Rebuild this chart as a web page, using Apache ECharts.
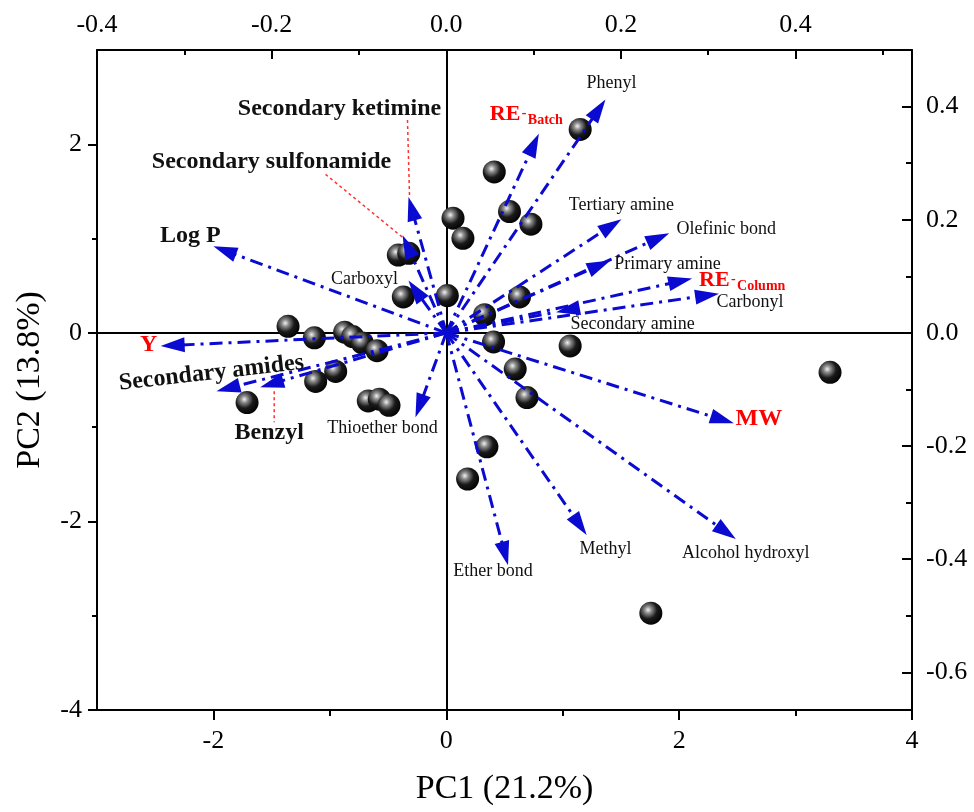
<!DOCTYPE html>
<html><head><meta charset="utf-8">
<script src="https://cdn.jsdelivr.net/npm/echarts@6/dist/echarts.min.js"></script>
<style>html,body{margin:0;padding:0;background:#fff}#c{width:974px;height:812px}</style>
</head><body><div id="c"></div>
<script>
// ---------- DATA ----------
// Sample scores (PC1, PC2)
const scorePC1 = [1.150, 0.412, 0.058, 0.143, 0.543, 0.727, -0.412, -0.322, -0.369, 0.009, 0.629, 0.329,
  -1.359, -1.133, -0.873, -0.804, -0.721, -0.595, 0.406, 1.064, -0.950, -1.122, -1.711, -0.670, -0.575, -0.492,
  0.592, 0.693, 0.349, 0.183, 3.296, 1.757];
const scorePC2 = [2.158, 1.707, 1.216, 1.003, 1.287, 1.152, 0.825, 0.843, 0.381, 0.395, 0.381, 0.192,
  0.069, -0.053, 0.007, -0.039, -0.107, -0.189, -0.096, -0.139, -0.409, -0.515, -0.739, -0.722, -0.704, -0.768,
  -0.384, -0.686, -1.209, -1.550, -0.419, -2.973];

// Variable loadings (top axis = PC1 loading, right axis = PC2 loading)
const loadingNames = ['Phenyl', 'RE-Batch', 'Tertiary amine', 'Olefinic bond', 'Primary amine', 'RE-Column',
  'Carbonyl', 'Secondary amine', 'MW', 'Alcohol hydroxyl', 'Methyl', 'Ether bond', 'Thioether bond', 'Benzyl',
  'Secondary amides', 'Y', 'Log P', 'Secondary sulfonamide', 'Secondary ketimine', 'Carboxyl'];
const loadingPC1 = [0.1823, 0.1060, 0.2006, 0.2553, 0.1880, 0.2815, 0.3123, 0.1527, 0.3293, 0.3316, 0.1607,
  0.0707, -0.0353, -0.2131, -0.2632, -0.3271, -0.2667, -0.0501, -0.0433, -0.0433];
const loadingPC2 = [0.4124, 0.3520, 0.2009, 0.1760, 0.1280, 0.0960, 0.0693, 0.0444, -0.1600, -0.3644, -0.3573,
  -0.4107, -0.1493, -0.0960, -0.1031, -0.0231, 0.1529, 0.1724, 0.2400, 0.0924];

// Tick labels
const pc1Ticks = [-2, 0, 2, 4];
const pc1Minor = [-1, 1, 3];
const pc2Ticks = [-4, -2, 0, 2];
const pc2Minor = [-3, -1, 1];
const load1Ticks = [-0.4, -0.2, 0, 0.2, 0.4];
const load1Minor = [-0.3, -0.1, 0.1, 0.3, 0.5];
const load2Ticks = [-0.6, -0.4, -0.2, 0, 0.2, 0.4];
const load2Minor = [-0.5, -0.3, -0.1, 0.1, 0.3];

// ---------- STYLE / LAYOUT ----------
const FONT = '"Liberation Serif", "Times New Roman", serif';
const BLUE = '#0a0ad0';
const labelLayout = {
  'Phenyl': {dx: 6, dy: -16, kind: 'reg'},
  'RE-Batch': {dx: -49, dy: -19, kind: 'sub'},
  'Tertiary amine': {dx: 0, dy: -14, kind: 'reg'},
  'Olefinic bond': {dx: 57, dy: -4, kind: 'reg'},
  'Primary amine': {dx: 57, dy: 4, kind: 'reg'},
  'RE-Column': {dx: 7, dy: 2, kind: 'sub'},
  'Carbonyl': {dx: 31, dy: 9, kind: 'reg'},
  'Secondary amine': {dx: 53, dy: 17, kind: 'reg', reverse: true},
  'MW': {dx: 25, dy: -5, kind: 'red'},
  'Alcohol hydroxyl': {dx: 10, dy: 14, kind: 'reg'},
  'Methyl': {dx: 19, dy: 14, kind: 'reg'},
  'Ether bond': {dx: -15, dy: 6, kind: 'reg'},
  'Thioether bond': {dx: -33, dy: 11, kind: 'reg'},
  'Benzyl': {dx: 9, dy: 46, kind: 'bold', leader: [14, 4, 14, 35]},
  'Secondary amides': {dx: -5, dy: -18, kind: 'bold', rot: 6.5},
  'Y': {dx: -12, dy: -1, kind: 'red'},
  'Log P': {dx: -23, dy: -11, kind: 'bold'},
  'Secondary sulfonamide': {dx: -131, dy: -74, kind: 'bold', leader: [-77, -61, 0, 2]},
  'Secondary ketimine': {dx: -69, dy: -88, kind: 'bold', leader: [-1, -77, 1, -2]},
  'Carboxyl': {dx: -44, dy: -1, kind: 'reg'}
};

function renderArrow(params, api) {
  const i = params.dataIndex;
  const name = loadingNames[i];
  const L = labelLayout[name] || {dx: 0, dy: 0, kind: 'reg'};
  const tip = api.coord([api.value(0), api.value(1)]);
  const o = api.coord([0, 0]);
  const vx = tip[0] - o[0], vy = tip[1] - o[1];
  const len = Math.hypot(vx, vy);
  const ux = vx / len, uy = vy / len, px = -uy, py = ux;
  const HL = 24, HW = 7.5;
  let head, lineEnd;
  if (L.reverse) {
    const ht = [tip[0] - ux * HL, tip[1] - uy * HL];
    head = [ht, [tip[0] + px * HW, tip[1] + py * HW], [tip[0] - px * HW, tip[1] - py * HW]];
    lineEnd = ht;
  } else {
    const b = [tip[0] - ux * HL, tip[1] - uy * HL];
    head = [tip, [b[0] + px * HW, b[1] + py * HW], [b[0] - px * HW, b[1] - py * HW]];
    lineEnd = [tip[0] - ux * HL * 0.7, tip[1] - uy * HL * 0.7];
  }
  const children = [];
  if (L.leader) {
    children.push({type: 'line', shape: {x1: tip[0] + L.leader[0], y1: tip[1] + L.leader[1], x2: tip[0] + L.leader[2], y2: tip[1] + L.leader[3]},
      style: {stroke: '#ff3030', lineWidth: 1.5, lineDash: [3, 3]}});
  }
  children.push({type: 'line', shape: {x1: o[0], y1: o[1], x2: lineEnd[0], y2: lineEnd[1]},
    style: {stroke: BLUE, lineWidth: 3, lineDash: [13, 6, 3, 6], lineCap: 'butt'}});
  children.push({type: 'polygon', shape: {points: head}, style: {fill: BLUE}});
  const lx = tip[0] + L.dx, ly = tip[1] + L.dy;
  if (L.kind === 'sub') {
    const parts = name.split('-');
    children.push({type: 'text', x: lx, y: ly, style: {text: parts[0], fill: '#ff0000', font: 'bold 22px ' + FONT, align: 'left', verticalAlign: 'middle'}});
    children.push({type: 'text', x: lx + 32, y: ly - 1, style: {text: '-', fill: '#ff0000', font: 'bold 14px ' + FONT, align: 'left', verticalAlign: 'middle'}});
    children.push({type: 'text', x: lx + 38, y: ly + 6, style: {text: parts[1], fill: '#ff0000', font: 'bold 14px ' + FONT, align: 'left', verticalAlign: 'middle'}});
  } else {
    let font, fill;
    if (L.kind === 'reg') { font = '18px ' + FONT; fill = '#111'; }
    else if (L.kind === 'bold') { font = 'bold 24px ' + FONT; fill = '#111'; }
    else { font = 'bold 24px ' + FONT; fill = '#ff0000'; }
    children.push({type: 'text', x: lx, y: ly, rotation: (L.rot || 0) * Math.PI / 180,
      style: {text: name, fill: fill, font: font, align: 'center', verticalAlign: 'middle'}});
  }
  return {type: 'group', children: children};
}

const scatterData = scorePC1.map((v, k) => [v, scorePC2[k]]);
const loadingData = loadingPC1.map((v, k) => [v, loadingPC2[k]]);

const lblStyle = {fontFamily: FONT, fontSize: 26, color: '#000'};
const chart = echarts.init(document.getElementById('c'), null, {renderer: 'canvas'});
chart.setOption({
  animation: false,
  backgroundColor: '#fff',
  grid: {left: 97, right: 62, top: 50, bottom: 102, containLabel: false},
  xAxis: [
    {type: 'value', position: 'bottom', min: -3, max: 4,
      axisLine: {show: true, onZero: false, lineStyle: {color: '#000', width: 2}},
      axisTick: {show: true, inside: false, length: 10, customValues: pc1Ticks, lineStyle: {color: '#000', width: 2}},
      axisLabel: Object.assign({customValues: pc1Ticks, margin: 18, formatter: v => String(v)}, lblStyle),
      splitLine: {show: false},
      name: 'PC1 (21.2%)', nameLocation: 'middle', nameGap: 62,
      nameTextStyle: {fontFamily: FONT, fontSize: 34, color: '#000'}},
    {type: 'value', position: 'bottom', min: -3, max: 4,
      axisLine: {show: false, onZero: false},
      axisTick: {show: true, length: 6, customValues: pc1Minor, lineStyle: {color: '#000', width: 2}},
      axisLabel: {show: false}, splitLine: {show: false}},
    {type: 'value', position: 'top', min: -0.4, max: 0.4 * 4 / 3,
      axisLine: {show: true, onZero: false, lineStyle: {color: '#000', width: 2}},
      axisTick: {show: true, inside: true, length: 9, customValues: load1Ticks, lineStyle: {color: '#000', width: 2}},
      axisLabel: Object.assign({customValues: load1Ticks, margin: 12, formatter: v => v.toFixed(1)}, lblStyle),
      splitLine: {show: false}},
    {type: 'value', position: 'top', min: -0.4, max: 0.4 * 4 / 3,
      axisLine: {show: false, onZero: false},
      axisTick: {show: true, inside: true, length: 5, customValues: load1Minor, lineStyle: {color: '#000', width: 2}},
      axisLabel: {show: false}, splitLine: {show: false}}
  ],
  yAxis: [
    {type: 'value', position: 'left', min: -4, max: 3,
      axisLine: {show: true, onZero: false, lineStyle: {color: '#000', width: 2}},
      axisTick: {show: true, inside: false, length: 9, customValues: pc2Ticks, lineStyle: {color: '#000', width: 2}},
      axisLabel: Object.assign({customValues: pc2Ticks, margin: 15, formatter: v => String(v)}, lblStyle),
      splitLine: {show: false},
      name: 'PC2 (13.8%)', nameLocation: 'middle', nameGap: 50,
      nameTextStyle: {fontFamily: FONT, fontSize: 34, color: '#000'}},
    {type: 'value', position: 'left', min: -4, max: 3,
      axisLine: {show: false, onZero: false},
      axisTick: {show: true, length: 5, customValues: pc2Minor, lineStyle: {color: '#000', width: 2}},
      axisLabel: {show: false}, splitLine: {show: false}},
    {type: 'value', position: 'right', min: -2 / 3, max: 0.5,
      axisLine: {show: true, onZero: false, lineStyle: {color: '#000', width: 2}},
      axisTick: {show: true, inside: true, length: 10, customValues: load2Ticks, lineStyle: {color: '#000', width: 2}},
      axisLabel: Object.assign({customValues: load2Ticks, margin: 14, formatter: v => v.toFixed(1)}, lblStyle),
      splitLine: {show: false}},
    {type: 'value', position: 'right', min: -2 / 3, max: 0.5,
      axisLine: {show: false, onZero: false},
      axisTick: {show: true, inside: true, length: 6, customValues: load2Minor, lineStyle: {color: '#000', width: 2}},
      axisLabel: {show: false}, splitLine: {show: false}}
  ],
  series: [
    {type: 'scatter', xAxisIndex: 0, yAxisIndex: 0, z: 2, data: scatterData, symbolSize: 23,
      itemStyle: {opacity: 1, color: {type: 'radial', x: 0.38, y: 0.36, r: 0.7,
        colorStops: [{offset: 0, color: '#f2f2f2'}, {offset: 0.22, color: '#8a8a8a'}, {offset: 0.55, color: '#1a1a1a'}, {offset: 1, color: '#000'}]}},
      markLine: {silent: true, z: 1, symbol: ['none', 'none'], label: {show: false},
        lineStyle: {color: '#000', width: 2, type: 'solid'},
        data: [{xAxis: 0}, {yAxis: 0}]}},
    {type: 'custom', xAxisIndex: 2, yAxisIndex: 2, z: 3, data: loadingData, renderItem: renderArrow, clip: false}
  ]
});
</script></body></html>
